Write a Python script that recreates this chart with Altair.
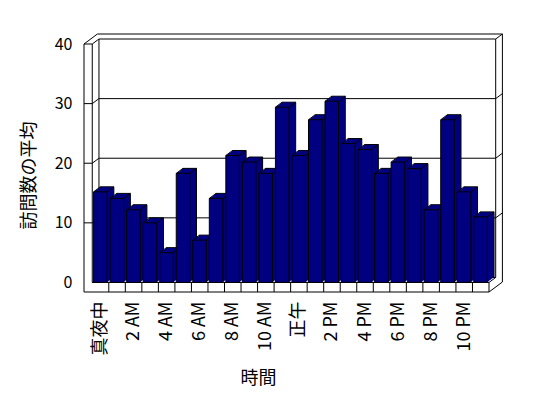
import json
import altair as alt
import pandas as pd

# ---- data ----
hours = ["真夜中", "1 AM", "2 AM", "3 AM", "4 AM", "5 AM", "6 AM", "7 AM",
         "8 AM", "9 AM", "10 AM", "11 AM", "正午", "1 PM", "2 PM", "3 PM",
         "4 PM", "5 PM", "6 PM", "7 PM", "8 PM", "9 PM", "10 PM", "11 PM"]
visits = [15.2, 14.1, 12.2, 10.0, 5.0, 18.3, 7.1, 14.1, 21.3, 20.2, 18.3, 29.4,
          21.3, 27.3, 30.4, 23.3, 22.3, 18.3, 20.2, 19.1, 12.2, 27.3, 15.2, 11.0]
y_ticks = [0, 10, 20, 30, 40]
y_title = "訪問数の平均"
x_title = "時間"

FONT = "Noto Sans CJK JP"
NAVY = "#000080"
DX, DY = 6.7, -5.0          # 3-D depth offset in pixels
XL, X0, X1 = -0.5, 0, len(hours)   # left wall outer, interior left, interior right
YB, Y0, YT = -1.6, 0, 40           # floor bottom, floor top, top

xs = alt.Scale(domain=[XL, X1], nice=False, zero=False)
ys = alt.Scale(domain=[YB, YT], nice=False, zero=False)

label_values = [i + 0.5 for i in range(0, len(hours), 2)]
label_expr = json.dumps(hours, ensure_ascii=False) + "[floor(datum.value)]"

X_AX = alt.Axis(
    values=label_values, labelExpr=label_expr, title=x_title,
    domain=False, ticks=False, grid=False,
    labelAngle=270, labelAlign="right", labelBaseline="middle",
    labelPadding=9, labelFont=FONT, labelFontSize=18, labelColor="#000000",
    titleFont=FONT, titleFontSize=18, titleFontWeight="normal", titleColor="#000000",
    titleX=174, titleY=86, titleAlign="center", titleBaseline="middle",
)
Y_AX = alt.Axis(
    values=y_ticks, title=y_title,
    domain=False, ticks=False, grid=False,
    labelPadding=12, labelFont=FONT, labelFontSize=16, labelColor="#000000",
    titleFont=FONT, titleFontSize=18, titleFontWeight="normal", titleColor="#000000",
    titleAngle=270, titleX=-55, titleY=131, titleAlign="center", titleBaseline="middle",
)

bars = pd.DataFrame({"i": list(range(len(hours))), "hour": hours, "v": visits})


def enc(xf, x2f, yf, y2f):
    return dict(
        x=alt.X(xf, scale=xs, axis=X_AX, title=x_title), x2=x2f,
        y=alt.Y(yf, scale=ys, axis=Y_AX, title=y_title), y2=y2f,
    )


def rules(rows, s, e, color="black"):
    df = pd.DataFrame(rows, columns=["x", "y", "x2", "y2"])
    return alt.Chart(df).mark_rule(
        color=color, strokeWidth=1,
        xOffset=s * DX, yOffset=s * DY, x2Offset=e * DX, y2Offset=e * DY,
    ).encode(**enc("x:Q", "x2:Q", "y:Q", "y2:Q"))


grid_vals = y_ticks[1:-1]

# ---- back box ----
outer = rules([[XL, YT, X1, YT], [X1, YT, X1, YB]], 2, 2)
inner_panel = alt.Chart(pd.DataFrame([{"x": X0, "x2": X1, "y": Y0, "y2": YT}])).mark_rect(
    fill="white", stroke="black", strokeWidth=1,
    xOffset=DX, x2Offset=DX, yOffset=DY, y2Offset=DY,
).encode(**enc("x:Q", "x2:Q", "y:Q", "y2:Q"))
back_grid = rules([[X0, v, X1, v] for v in grid_vals], 1, 1)
right_diag = rules([[X1, v, X1, v] for v in grid_vals + [YT]], 1, 2)
left_diag = rules([[X0, v, X0, v] for v in [Y0] + grid_vals + [YT]], 0, 1)
wall_top = rules([[XL, YT, XL, YT], [X1, YB, X1, YB]], 0, 2)
floor_right = rules([[X1, Y0, X1, Y0]], 0, 1)

# ---- bars ----
bars_base = alt.Chart(bars).transform_calculate(
    x0="datum.i + 0.08", x1="datum.i + 0.9", base="0"
)


def bar_layer(k, n, stroke):
    f = k / n
    kw = dict(fill=NAVY, xOffset=f * DX, x2Offset=f * DX, yOffset=f * DY, y2Offset=f * DY)
    if stroke:
        kw.update(stroke="black", strokeWidth=1)
    else:
        kw.update(strokeWidth=0)
    return bars_base.mark_rect(**kw).encode(**enc("x0:Q", "x1:Q", "base:Q", "v:Q"))


N = 8
bar_back = bar_layer(N, N, True)
sweeps = [bar_layer(k, N, False) for k in range(1, N)]

diag_tl = bars_base.mark_rule(color="black", strokeWidth=1, x2Offset=DX, y2Offset=DY).encode(
    **enc("x0:Q", "x0:Q", "v:Q", "v:Q"))
diag_tr = bars_base.mark_rule(color="black", strokeWidth=1, x2Offset=DX, y2Offset=DY).encode(
    **enc("x1:Q", "x1:Q", "v:Q", "v:Q"))

bar_front = bars_base.mark_rect(fill=NAVY, stroke="black", strokeWidth=1).encode(
    **enc("x0:Q", "x1:Q", "base:Q", "v:Q"))

# ---- front frame (left wall face + floor face) ----
front = rules(
    [[XL, YB, XL, YT], [XL, YT, X0, YT], [X0, Y0, X0, YT],
     [X0, Y0, X1, Y0], [XL, YB, X1, YB], [X1, YB, X1, Y0]]
    + [[XL, v, X0, v] for v in grid_vals]
    + [[k, YB, k, Y0] for k in range(1, len(hours))],
    0, 0)

chart = alt.layer(
    outer, inner_panel, back_grid, right_diag, left_diag, wall_top, floor_right,
    bar_back, *sweeps, diag_tl, diag_tr, bar_front, front,
).properties(
    width=405, height=248,
    autosize=alt.AutoSizeParams(type="none"),
    padding={"left": 76, "top": 36, "right": 40, "bottom": 100},
    background="white",
).configure_view(stroke=None)

chart.save("out.html", embed_options={"renderer": "svg", "actions": False})
